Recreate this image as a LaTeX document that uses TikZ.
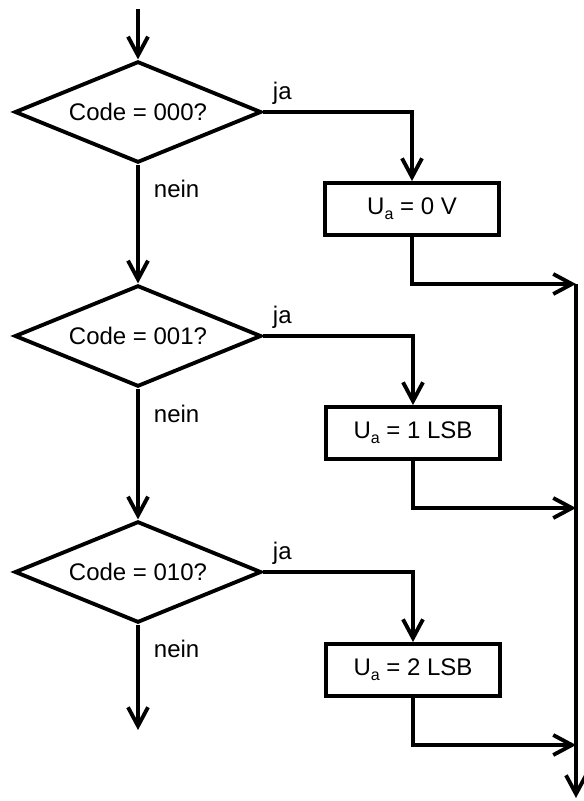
\documentclass[tikz,border=0pt]{standalone}
\usepackage{fontspec}
\setmainfont{Liberation Sans}
\usetikzlibrary{arrows.meta,shapes.geometric}
\newcommand{\Ua}{U\raisebox{-3.5pt}{\fontsize{12}{12}\selectfont a}}

\begin{document}
\begin{tikzpicture}[x=0.75pt, y=-0.75pt, line width=2.9pt,
  font=\fontsize{18}{21}\selectfont,
  test/.style={draw, diamond, aspect=2.45, inner sep=0pt,
    minimum width=185pt, minimum height=76pt},
  setbox/.style={draw, rectangle, inner sep=0pt,
    minimum width=130pt, minimum height=39pt},
  flow/.style={-{Straight Barb[length=14pt,width=15pt]}},
  answer/.style={anchor=base west, inner sep=0pt}]
\useasboundingbox (0,0) rectangle (584,801);
% decisions: left column
\coordinate (start) at (138,9);
\node[test] (c0) at (138,112) {Code = 000?};
\node[test] (c1) at (138,336) {Code = 001?};
\node[test] (c2) at (138,572) {Code = 010?};
\coordinate (out) at (138,730);
% actions: right column
\node[setbox] (u0) at (412,209) {\Ua{} = 0 V};
\node[setbox] (u1) at (413,433) {\Ua{} = 1 LSB};
\node[setbox] (u2) at (413,670) {\Ua{} = 2 LSB};
% collecting line
\coordinate (m0) at (576,284);
\coordinate (m1) at (576,508);
\coordinate (m2) at (576,745);
\coordinate (busend) at (576,798);
% answers
\node[answer] (ja0) at (271,99) {ja};
\node[answer] (ja1) at (271,323) {ja};
\node[answer] (ja2) at (271,559) {ja};
\node[answer] (nein0) at (152,197) {nein};
\node[answer] (nein1) at (152,422) {nein};
\node[answer] (nein2) at (152,657) {nein};
% connectors
\draw[flow] (start) -- (c0);
\draw[flow] (c0) -- (c1);
\draw[flow] (c1) -- (c2);
\draw[flow] (c2) -- (out);
\draw[flow] (c0.east) -| (u0);
\draw[flow] (c1.east) -| (u1);
\draw[flow] (c2.east) -| (u2);
\draw[flow] (u0.south) |- (m0);
\draw[flow] (u1.south) |- (m1);
\draw[flow] (u2.south) |- (m2);
\draw[flow] (m0) -- (busend);
\end{tikzpicture}
\end{document}
